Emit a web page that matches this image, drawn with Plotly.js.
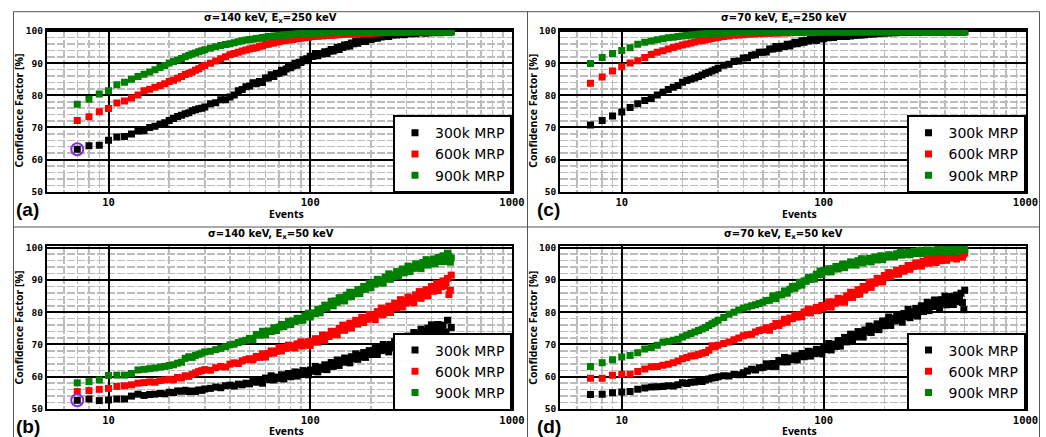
<!DOCTYPE html>
<html>
<head>
<meta charset="utf-8">
<script src="https://cdn.plot.ly/plotly-3.0.1.min.js"></script>
<style>html,body{margin:0;padding:0;background:#fff;}#chart{width:1046px;height:437px;}</style>
</head>
<body>
<div id="chart"></div>
<script>
// ---------------- DATA ----------------
// event counts at which the confidence factor is plotted (denser where the bands are)
const events = [7,8,9,10,11,12,13,14,15,16,17,18,19,20,21,22,23,24,25,26,27,28,29,30,
  32,34,36,38,40,42,44,46,48,50,
  52,54,56,58,60,62,64,66,68,70,72,74,76,78,80,82,84,86,88,90,92,94,96,98,100,
  103,106,109,112,115,118,121,124,127,130,133,136,139,142,145,148,151,154,157,160,
  164,168,172,176,180,184,188,192,196,200,
  205,210,215,220,225,230,235,240,245,250,
  256,262,268,274,280,286,292,298,
  305,312,319,326,333,340,347,354,361,368,375,
  383,391,399,407,415,423,431,439,447,455,463,471,479,487,495,
  500];

const seriesNames = ['300k MRP', '600k MRP', '900k MRP'];
const panelTitles = ['σ=140 keV, E<sub>x</sub>=250 keV', 'σ=140 keV, E<sub>x</sub>=50 keV',
                     'σ=70 keV, E<sub>x</sub>=250 keV', 'σ=70 keV, E<sub>x</sub>=50 keV'];
const panelLabels = ['(a)', '(b)', '(c)', '(d)'];
const xTickVals = [10, 100, 1000];
const xTickText = ['10', '100', '1000'];
const xMinorVals = [6,7,8,9,20,30,40,50,60,70,80,90,200,300,400,500,600,700,800,900];
const xAxisTitle = 'Events';
const yAxisTitle = 'Confidence Factor [%]';

// (a) sigma=140 keV, Ex=250 keV
const a300 = [63.2,64.3,64.5,66.0,67.0,67.2,68.0,68.9,69.0,70.0,70.4,71.0,71.5,72.2,72.8,73.4,73.8,74.3,74.6,75.2,75.5,75.8,76.0,76.4,
  77.4,77.7,78.6,78.6,79.5,80.1,81.4,81.8,82.7,82.9,
  83.9,83.6,84.3,84.0,85.4,85.4,86.4,85.9,86.8,86.9,87.8,87.3,88.2,88.9,88.6,89.1,90.0,89.4,90.3,90.2,91.1,90.8,91.4,91.0,92.2,
  92.1,93.0,92.3,93.0,92.9,93.6,93.0,93.7,94.3,93.8,94.2,95.0,94.3,95.1,94.9,95.7,95.3,95.8,95.4,96.3,
  96.1,96.9,96.2,96.9,96.8,97.4,96.8,97.4,98.0,97.4,
  97.8,98.4,97.8,98.4,98.2,98.8,98.4,98.7,98.3,99.0,
  98.8,99.4,98.8,99.2,99.0,99.5,98.9,99.4,
  99.7,99.2,99.5,99.9,99.2,99.8,99.5,99.9,99.5,99.8,99.3,
  99.9,99.6,99.9,99.5,99.8,99.6,99.9,99.5,99.8,99.8,99.6,99.8,99.9,99.7,99.8,
  99.8];
const a600 = [72.2,73.3,74.9,75.9,77.6,78.2,79.2,80.1,81.4,81.9,82.5,83.1,83.6,84.3,84.7,85.3,85.9,86.5,86.9,87.3,87.8,88.3,88.9,89.3,
  90.0,90.7,91.4,92.0,92.6,93.0,93.4,93.8,94.1,94.4,
  94.7,94.8,95.3,95.4,95.9,95.9,96.3,96.3,96.7,96.7,97.1,97.0,97.3,97.2,97.5,97.4,97.7,97.6,97.9,97.8,98.0,97.9,98.2,98.1,98.4,
  98.3,98.5,98.4,98.6,98.5,98.7,98.6,98.8,98.7,98.9,98.8,99.0,98.9,99.1,99.0,99.1,99.1,99.2,99.1,99.2,
  99.2,99.3,99.2,99.3,99.3,99.4,99.3,99.4,99.4,99.4,
  99.5,99.4,99.5,99.5,99.6,99.5,99.6,99.6,99.6,99.6,
  99.7,99.6,99.7,99.7,99.7,99.7,99.7,99.8,
  99.7,99.8,99.7,99.8,99.8,99.8,99.8,99.8,99.8,99.8,99.8,
  99.8,99.8,99.8,99.8,99.8,99.8,99.8,99.8,99.8,99.8,99.8,99.8,99.8,99.8,99.8,
  99.8];
const a900 = [77.2,78.8,80.4,81.4,83.3,84.1,85.0,85.9,86.6,87.3,88.0,88.7,89.3,90.1,90.5,91.0,91.5,92.0,92.5,92.9,93.2,93.6,93.9,94.2,
  94.7,95.1,95.5,95.8,96.1,96.4,96.7,97.0,97.2,97.4,
  97.5,97.7,97.8,98.0,98.1,98.3,98.3,98.5,98.5,98.7,98.7,98.8,98.8,98.9,98.9,99.0,99.0,99.1,99.1,99.2,99.2,99.3,99.3,99.3,99.4,
  99.4,99.5,99.4,99.5,99.5,99.5,99.6,99.5,99.6,99.6,99.6,99.7,99.6,99.7,99.6,99.7,99.7,99.7,99.8,99.7,
  99.8,99.7,99.8,99.8,99.7,99.8,99.8,99.8,99.8,99.8,
  99.8,99.9,99.8,99.9,99.8,99.9,99.8,99.9,99.9,99.8,
  99.9,99.8,99.9,99.9,99.8,99.9,99.9,99.8,
  99.9,99.9,99.8,99.9,99.9,99.9,99.8,99.9,99.9,99.9,99.8,
  99.9,99.9,99.8,99.9,99.9,99.9,99.8,99.9,99.9,99.9,99.8,99.9,99.9,99.9,99.8,
  99.9];

// (b) sigma=140 keV, Ex=50 keV
const b300 = [52.7,53.1,52.6,52.8,53.1,53.1,54.0,54.6,54.2,54.5,54.6,54.8,54.7,55.2,55.1,55.6,55.5,55.8,55.4,55.6,55.4,55.9,55.8,56.2,
  56.4,56.8,56.6,57.2,57.4,57.1,57.7,57.5,58.0,57.8,
  59.1,58.3,59.0,58.0,59.6,59.1,60.3,59.0,59.9,59.5,60.6,59.3,60.4,61.0,60.0,60.5,61.5,60.2,61.3,60.9,61.9,61.0,61.6,60.6,62.1,
  61.7,63.2,61.5,62.9,62.3,63.7,62.2,63.5,64.4,63.2,63.9,65.2,63.5,65.0,64.5,65.8,64.7,65.5,64.3,66.2,
  65.6,67.1,65.4,66.7,66.1,67.5,66.0,67.3,68.1,66.9,
  67.6,69.2,66.9,68.8,68.1,70.0,68.4,69.3,67.7,70.0,
  69.0,70.9,68.8,70.5,69.7,71.6,69.7,71.4,
  72.6,71.1,72.0,73.7,71.4,73.4,72.8,74.7,73.2,74.2,72.7,
  75.1,74.2,76.1,73.9,75.5,74.5,76.2,74.0,75.4,76.0,73.7,73.9,77.5,72.3,70.8,
  75.3];
const b600 = [55.4,55.7,56.1,56.4,57.0,57.2,57.5,58.0,58.2,58.4,58.3,58.8,59.0,59.2,59.0,59.8,59.6,60.3,60.1,60.7,61.2,61.6,61.9,62.2,
  62.0,62.8,63.2,63.0,63.9,64.3,64.1,64.9,65.3,65.6,
  65.2,66.3,66.0,67.1,66.1,67.2,68.0,67.3,67.9,69.0,68.0,69.1,68.8,69.8,69.1,69.6,68.9,70.2,69.8,70.8,69.5,70.4,70.0,70.9,69.7,
  70.8,71.8,70.7,71.5,72.9,71.3,72.9,72.5,74.1,73.1,74.0,73.0,75.0,74.5,76.0,74.4,75.7,75.2,76.6,75.1,
  76.5,77.5,76.3,77.1,78.4,76.8,78.3,77.8,79.3,78.2,
  79.2,77.7,80.2,79.4,81.3,79.2,80.9,80.0,81.9,79.9,
  81.6,82.8,81.3,82.2,83.9,81.6,83.5,82.8,
  84.7,83.3,84.4,82.9,85.4,84.5,86.4,84.3,85.9,85.1,87.0,
  85.1,86.8,88.0,86.5,87.4,89.0,86.7,88.6,87.9,89.7,88.1,89.1,90.5,85.5,86.8,
  91.5];
const b900 = [58.1,58.5,59.0,60.4,60.5,60.5,61.0,62.1,62.3,62.5,62.7,63.0,63.2,63.5,63.7,64.2,64.5,65.7,66.2,66.0,66.6,67.0,67.3,67.7,
  67.9,68.4,68.8,69.3,69.9,70.1,70.6,71.0,71.3,71.9,
  71.5,73.1,72.9,74.1,73.0,74.2,74.0,75.2,74.3,75.4,76.2,75.5,76.1,77.2,76.2,77.3,77.1,78.1,77.5,78.1,77.5,78.9,78.6,79.7,78.5,
  79.8,79.5,80.9,79.8,81.2,82.2,81.3,82.1,83.4,82.0,83.5,83.1,84.5,83.6,84.5,83.5,85.3,84.8,86.2,84.8,
  86.1,85.7,87.0,85.8,87.1,88.0,87.1,87.8,89.0,87.6,
  89.1,88.7,90.2,89.2,90.0,89.0,90.9,90.4,91.9,90.2,
  91.6,91.1,92.6,91.2,92.5,93.4,92.2,92.9,
  94.3,92.6,94.1,93.6,95.0,93.9,94.7,93.5,95.4,94.8,96.3,
  94.6,95.8,95.2,96.5,95.0,96.2,97.0,95.7,96.3,97.5,95.7,97.1,98.3,97.4,95.5,
  96.8];

// (c) sigma=70 keV, Ex=250 keV
const c300 = [70.8,72.2,73.6,74.8,76.2,77.4,78.4,79.0,80.1,81.0,81.8,82.5,83.1,84.1,84.6,85.0,85.4,85.9,86.3,86.8,87.2,87.6,88.0,88.4,
  89.4,89.7,90.5,90.7,91.6,91.7,92.5,92.6,93.4,93.4,
  93.5,94.4,94.4,95.2,94.7,95.3,95.2,95.9,95.4,96.0,96.5,96.1,96.4,97.0,96.5,97.0,96.9,97.5,97.2,97.5,97.1,97.8,97.6,98.2,97.6,
  98.3,97.9,98.3,98.0,98.5,98.3,98.8,98.3,98.7,98.3,98.9,98.5,98.9,98.6,99.1,98.8,99.3,98.8,99.2,98.9,
  99.4,99.0,99.4,99.1,99.5,99.2,99.6,99.3,99.7,99.4,
  99.7,99.4,99.7,99.5,99.8,99.5,99.8,99.6,99.8,99.6,
  99.8,99.6,99.8,99.7,99.8,99.7,99.8,99.7,
  99.8,99.8,99.8,99.8,99.8,99.8,99.8,99.8,99.8,99.8,99.8,
  99.8,99.8,99.8,99.8,99.8,99.8,99.8,99.8,99.8,99.8,99.8,99.8,99.8,99.8,99.8,
  99.8];
const c600 = [83.8,85.7,87.6,88.9,90.1,90.8,91.8,92.7,93.4,93.9,94.4,94.9,95.3,95.7,96.0,96.3,96.6,96.9,97.1,97.3,97.5,97.7,97.9,98.0,
  98.3,98.5,98.7,98.8,98.9,99.0,99.1,99.2,99.2,99.3,
  99.3,99.3,99.4,99.4,99.4,99.5,99.5,99.5,99.5,99.6,99.6,99.6,99.6,99.6,99.7,99.7,99.7,99.7,99.7,99.7,99.7,99.8,99.7,99.8,99.7,
  99.8,99.7,99.8,99.8,99.7,99.8,99.8,99.8,99.7,99.8,99.8,99.8,99.8,99.8,99.8,99.8,99.8,99.8,99.8,99.8,
  99.8,99.8,99.8,99.8,99.8,99.8,99.8,99.8,99.8,99.8,
  99.8,99.8,99.8,99.8,99.8,99.8,99.8,99.8,99.8,99.8,
  99.8,99.8,99.8,99.8,99.8,99.8,99.8,99.8,
  99.8,99.8,99.8,99.8,99.8,99.8,99.8,99.8,99.8,99.8,99.8,
  99.8,99.8,99.8,99.8,99.8,99.8,99.8,99.8,99.8,99.8,99.8,99.8,99.8,99.8,99.8,
  99.8];
const c900 = [89.9,91.8,93.0,94.0,94.8,95.9,96.5,96.9,97.3,97.6,97.9,98.1,98.3,98.5,98.6,98.8,98.9,99.0,99.1,99.2,99.2,99.3,99.3,99.4,
  99.4,99.5,99.5,99.6,99.6,99.7,99.7,99.7,99.8,99.8,
  99.8,99.8,99.9,99.8,99.9,99.8,99.9,99.8,99.9,99.9,99.8,99.9,99.9,99.8,99.9,99.9,99.9,99.8,99.9,99.9,99.9,99.8,99.9,99.9,99.9,
  99.9,99.9,99.8,99.9,99.9,99.9,99.9,99.8,99.9,99.9,99.9,99.9,99.8,99.9,99.9,99.9,99.9,99.8,99.9,99.9,
  99.9,99.9,99.8,99.9,99.9,99.9,99.9,99.8,99.9,99.9,
  99.9,99.9,99.8,99.9,99.9,99.9,99.9,99.8,99.9,99.9,
  99.9,99.9,99.8,99.9,99.9,99.9,99.9,99.8,
  99.9,99.9,99.9,99.9,99.8,99.9,99.9,99.9,99.9,99.8,99.9,
  99.9,99.9,99.9,99.8,99.9,99.9,99.9,99.9,99.8,99.9,99.9,99.9,99.9,99.8,99.9,
  99.9];

// (d) sigma=70 keV, Ex=50 keV
const d300 = [54.5,54.6,55.0,55.3,55.4,56.1,56.5,56.8,56.9,57.0,57.2,57.1,57.5,58.1,57.9,58.3,58.4,58.7,58.5,59.0,59.3,59.6,59.8,60.0,
  60.3,60.2,60.7,60.6,61.2,61.8,62.3,62.1,62.8,62.9,
  64.0,63.2,64.1,63.2,65.0,64.6,66.0,64.6,65.8,65.3,66.5,65.2,66.4,67.2,66.2,66.7,67.9,66.4,67.7,67.2,68.5,67.4,68.2,67.1,68.8,
  68.4,70.3,68.3,70.1,69.4,71.2,69.5,71.1,72.2,70.8,71.6,73.2,71.1,73.0,72.3,74.0,72.6,73.6,72.3,74.5,
  73.9,75.7,73.7,75.4,74.7,76.4,74.6,76.1,77.3,75.8,
  76.5,78.5,75.9,78.1,77.3,79.3,77.5,78.6,76.9,79.6,
  78.7,80.9,78.3,80.2,79.2,81.2,78.8,80.8,
  82.0,80.2,81.2,83.1,80.5,82.6,81.8,83.8,82.0,83.0,81.3,
  83.9,82.9,85.0,82.3,84.1,83.0,84.9,82.4,84.2,85.3,83.3,84.2,85.9,83.0,80.8,
  86.8];
const d600 = [59.5,59.5,60.5,60.8,60.8,61.6,62.4,63.1,63.2,63.6,63.9,64.3,64.9,65.6,66.0,66.4,66.5,66.9,67.3,67.5,68.2,69.6,69.3,69.8,
  70.3,70.8,71.5,72.0,72.7,73.0,73.2,73.9,74.3,74.6,
  75.2,74.4,75.6,76.5,75.9,76.6,77.8,76.9,78.2,78.0,79.1,78.5,79.2,78.6,80.1,79.9,81.0,79.8,80.8,80.5,81.5,80.5,81.4,82.1,81.2,
  81.8,83.2,81.6,83.2,82.8,84.3,83.2,84.1,83.1,85.1,84.6,86.2,84.6,86.0,85.5,87.0,85.6,87.0,88.0,86.9,
  87.8,89.3,87.7,89.4,89.0,90.5,89.5,90.4,89.4,91.4,
  90.9,92.3,91.1,92.1,91.8,93.0,91.8,92.9,93.6,92.7,
  93.4,94.5,93.3,94.5,94.2,95.3,94.5,95.2,
  94.3,95.8,95.3,96.5,95.2,96.1,95.6,96.7,95.4,96.4,97.0,
  96.0,96.5,97.5,96.1,97.2,96.8,97.8,96.9,97.5,96.5,98.0,97.4,98.6,97.1,98.0,
  98.4];
const d900 = [63.2,64.3,65.3,66.1,66.6,67.4,68.6,69.1,69.8,70.7,70.9,71.3,71.6,72.3,72.9,73.4,73.9,74.3,74.8,75.3,75.9,76.4,76.9,77.5,
  78.4,79.4,80.0,80.7,81.3,81.6,82.0,82.3,82.7,83.1,
  83.6,83.7,85.1,84.2,85.4,85.4,86.6,85.9,87.1,88.0,87.4,88.1,89.3,88.4,89.7,89.6,90.8,90.2,90.9,90.3,91.8,91.6,92.8,91.7,92.8,
  92.5,93.5,92.5,93.5,94.2,93.4,93.9,94.9,93.8,94.9,94.6,95.6,94.8,95.4,94.6,96.0,95.6,96.6,95.3,96.2,
  95.8,96.7,95.6,96.5,97.1,96.2,96.6,97.5,96.3,97.3,
  97.1,97.8,97.2,97.7,97.2,98.1,97.8,98.6,97.7,98.3,
  98.0,98.6,97.8,98.4,98.8,98.2,98.5,99.1,
  98.2,98.9,98.6,99.3,98.6,98.9,98.4,99.2,98.8,99.6,98.6,
  99.2,98.9,99.5,98.6,99.2,99.6,98.9,99.2,99.7,98.8,99.5,99.2,99.8,99.1,99.4,
  99.4];

// ---------------- STYLE / LAYOUT ----------------
const W = 1046, H = 437;
const fx = p => p / W;
const fy = p => 1 - p / H;
const colors = ['#000000', '#ff0000', '#008000'];

const panels = [
  {x: 'x',  y: 'y',  legend: 'legend',  data: [a300, a600, a900], ring: true,  L: 46.9,  R: 512,    T: 29.5,  B: 191.7},
  {x: 'x2', y: 'y2', legend: 'legend2', data: [b300, b600, b900], ring: true,  L: 46.9,  R: 512,    T: 246.1, B: 409},
  {x: 'x3', y: 'y3', legend: 'legend3', data: [c300, c600, c900], ring: false, L: 560.1, R: 1025.5, T: 29.5,  B: 191.7},
  {x: 'x4', y: 'y4', legend: 'legend4', data: [d300, d600, d900], ring: false, L: 560.1, R: 1025.5, T: 246.1, B: 409}
];

let mismatch = false;
const traces = [];
panels.forEach(p => {
  p.data.forEach((vals, i) => {
    if (vals.length !== events.length) mismatch = true;
    traces.push({
      type: 'scatter', mode: 'markers', x: events, y: vals,
      xaxis: p.x, yaxis: p.y, legend: p.legend, name: seriesNames[i],
      marker: {symbol: 'square', size: 7, color: colors[i], line: {width: 0}},
      hoverinfo: 'skip'
    });
  });
  if (p.ring) {
    traces.push({
      type: 'scatter', mode: 'markers', x: [events[0]], y: [p.data[0][0]],
      xaxis: p.x, yaxis: p.y, showlegend: false, hoverinfo: 'skip',
      marker: {symbol: 'circle-open', size: 12, color: '#8a2be2', line: {width: 2, color: '#8a2be2'}}
    });
  }
});

const tickFont = {family: 'DejaVu Sans Mono', size: 10.5, weight: 'bold', color: '#000'};
function xAxis(p) {
  return {
    domain: [fx(p.L), fx(p.R)], anchor: p.y, type: 'log', range: [Math.log10(4.95), 3],
    showline: true, mirror: true, linecolor: '#000', linewidth: 2,
    ticks: '', tickmode: 'array', tickvals: xTickVals, ticktext: xTickText, tickfont: tickFont,
    showgrid: true, gridcolor: '#000', gridwidth: 2, zeroline: false,
    minor: {tickmode: 'array', tickvals: xMinorVals, showgrid: true, gridcolor: '#bcbcbc',
            gridwidth: 1.5, griddash: '8px,2px', ticks: ''}
  };
}
function yAxis(p) {
  return {
    domain: [fy(p.B), fy(p.T)], anchor: p.x, range: [50, 100.5],
    showline: true, mirror: true, linecolor: '#000', linewidth: 2,
    ticks: '', tick0: 50, dtick: 10, tickfont: Object.assign({}, tickFont, {size: 9.5}),
    showgrid: true, gridcolor: '#000', gridwidth: 2, zeroline: false,
    minor: {dtick: 2, showgrid: true, gridcolor: '#bcbcbc', gridwidth: 1.5, griddash: '8px,2px', ticks: ''}
  };
}
function legendBox(p) {
  return {
    x: fx(p.R), y: fy(p.B + 1.5), xanchor: 'right', yanchor: 'bottom',
    bgcolor: '#ffffff', bordercolor: '#000', borderwidth: 2,
    font: {family: 'DejaVu Sans', size: 14, color: '#000'},
    itemclick: false, itemdoubleclick: false, traceorder: 'normal'
  };
}

const annotations = [];
const frameCenters = [270.5, 270.5, 783.5, 783.5];
panels.forEach((p, k) => {
  annotations.push({text: panelTitles[k], xref: 'paper', yref: 'paper', x: fx(frameCenters[k]), y: fy(p.T - 11.2),
    xanchor: 'center', yanchor: 'middle', showarrow: false,
    font: {family: 'DejaVu Sans', size: 10, weight: 'bold', color: '#000'}});
  annotations.push({text: xAxisTitle, xref: 'paper', yref: 'paper', x: fx((p.L + p.R) / 2 + 7), y: fy(p.B + 22),
    xanchor: 'center', yanchor: 'middle', showarrow: false,
    font: {family: 'Open Sans', size: 10.5, weight: 'bold', color: '#000'}});
  annotations.push({text: yAxisTitle, xref: 'paper', yref: 'paper', x: fx(p.L - 28), y: fy((p.T + p.B) / 2),
    xanchor: 'center', yanchor: 'middle', textangle: -90, showarrow: false,
    font: {family: 'Open Sans', size: 10.5, weight: 'bold', color: '#000'}});
  annotations.push({text: '<b>' + panelLabels[k] + '</b>', xref: 'paper', yref: 'paper', x: fx(p.L < 100 ? 13.5 : 534.5), y: fy(p.B + 17.5),
    xanchor: 'left', yanchor: 'middle', showarrow: false,
    font: {family: 'Liberation Sans', size: 19, color: '#000'}});
});
if (mismatch) {
  annotations.push({text: 'LENGTH MISMATCH', xref: 'paper', yref: 'paper', x: 0.5, y: 0.5, showarrow: false,
    font: {size: 30, color: '#f0f'}});
}

const frameLine = {color: '#555', width: 1};
const shapes = [
  {type: 'line', xref: 'paper', yref: 'paper', x0: fx(13.5), x1: fx(1039.5), y0: fy(11.7), y1: fy(11.7), line: frameLine},
  {type: 'line', xref: 'paper', yref: 'paper', x0: fx(13.5), x1: fx(1039.5), y0: fy(227), y1: fy(227), line: frameLine},
  {type: 'line', xref: 'paper', yref: 'paper', x0: fx(13.5), x1: fx(13.5), y0: fy(11.7), y1: fy(440), line: frameLine},
  {type: 'line', xref: 'paper', yref: 'paper', x0: fx(527.5), x1: fx(527.5), y0: fy(11.7), y1: fy(440), line: frameLine},
  {type: 'line', xref: 'paper', yref: 'paper', x0: fx(1039.5), x1: fx(1039.5), y0: fy(11.7), y1: fy(440), line: frameLine}
];

const layout = {
  width: W, height: H, margin: {l: 0, r: 0, t: 0, b: 0},
  paper_bgcolor: '#fff', plot_bgcolor: '#fff',
  font: {family: 'DejaVu Sans', color: '#000'},
  showlegend: true, hovermode: false,
  xaxis: xAxis(panels[0]), yaxis: yAxis(panels[0]),
  xaxis2: xAxis(panels[1]), yaxis2: yAxis(panels[1]),
  xaxis3: xAxis(panels[2]), yaxis3: yAxis(panels[2]),
  xaxis4: xAxis(panels[3]), yaxis4: yAxis(panels[3]),
  legend: legendBox(panels[0]), legend2: legendBox(panels[1]),
  legend3: legendBox(panels[2]), legend4: legendBox(panels[3]),
  annotations: annotations, shapes: shapes
};

Plotly.newPlot('chart', traces, layout, {staticPlot: true, displayModeBar: false});
</script>
</body>
</html>
